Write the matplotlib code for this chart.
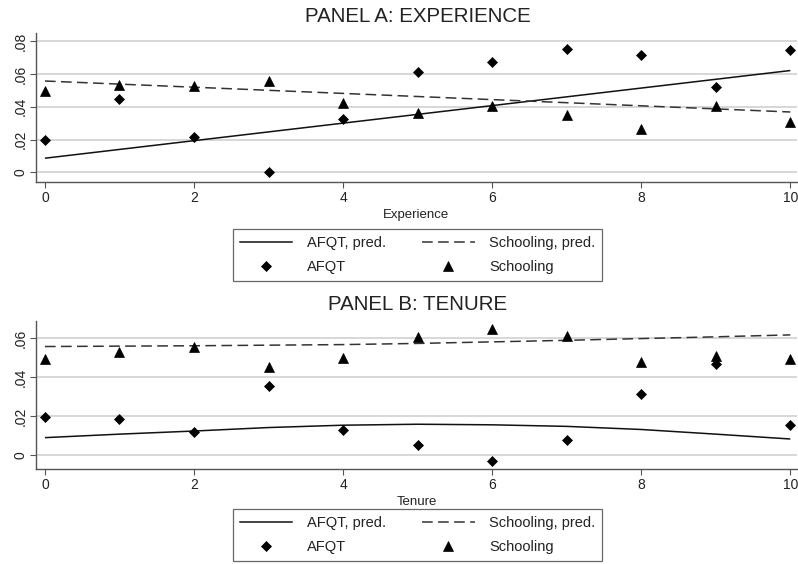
import matplotlib
matplotlib.use("Agg")
import matplotlib.pyplot as plt
from matplotlib.lines import Line2D

plt.rcParams['font.family'] = ['Liberation Sans', 'DejaVu Sans']

# ---- data ----
x_vals = [0, 1, 2, 3, 4, 5, 6, 7, 8, 9, 10]
xticks = [0, 2, 4, 6, 8, 10]

# Panel A: Experience
a_afqt = [0.0200, 0.0447, 0.0216, 0.0004, 0.0325, 0.0610, 0.0674, 0.0755, 0.0714, 0.0523, 0.0749]
a_school = [0.0494, 0.0535, 0.0529, 0.0555, 0.0425, 0.0361, 0.0402, 0.0351, 0.0265, 0.0406, 0.0304]
a_pred_x = [0, 10]
a_afqt_pred = [0.0086, 0.0621]
a_school_pred = [0.0557, 0.0368]
a_yticks = [0, 0.02, 0.04, 0.06, 0.08]
a_yticklabels = ['0', '.02', '.04', '.06', '.08']

# Panel B: Tenure
b_afqt = [0.0196, 0.0182, 0.0119, 0.0353, 0.0126, 0.0048, -0.0031, 0.0076, 0.0311, 0.0468, 0.0153]
b_school = [0.0493, 0.0528, 0.0554, 0.0454, 0.0497, 0.0608, 0.0648, 0.0613, 0.0479, 0.0509, 0.0492]
b_afqt_pred = [0.0088, 0.0106, 0.0122, 0.0140, 0.0152, 0.0157, 0.0154, 0.0146, 0.0130, 0.0106, 0.0081]
b_school_pred = [0.0557, 0.0559, 0.0561, 0.0564, 0.0567, 0.0573, 0.0581, 0.0589, 0.0598, 0.0607, 0.0617]
b_yticks = [0, 0.02, 0.04, 0.06]
b_yticklabels = ['0', '.02', '.04', '.06']

W, H = 798, 564
fig = plt.figure(figsize=(W / 100, H / 100), dpi=100)

D_MS, T_MS = 5.2, 6.6


def px_axes(left, top, right, bottom):
    return fig.add_axes([left / W, 1 - bottom / H, (right - left) / W, (bottom - top) / H])


def style(ax, yticks, yticklabels, ylim, xlabel):
    ax.set_xlim(-0.12, 10.09)
    ax.set_ylim(*ylim)
    ax.set_xticks(xticks)
    ax.set_xticklabels([str(t) for t in xticks], fontsize=10, color='#222222')
    ax.set_yticks(yticks)
    ax.set_yticklabels(yticklabels, fontsize=10, rotation=90, va='center', color='#222222')
    for s in ['top', 'right']:
        ax.spines[s].set_visible(False)
    for s in ['left', 'bottom']:
        ax.spines[s].set_color('#555555')
        ax.spines[s].set_linewidth(1.0)
    ax.tick_params(axis='both', direction='out', length=4, width=0.8, color='#555555', pad=2)
    ax.grid(axis='y', color='#d4d4d4', linewidth=1.3)
    ax.set_axisbelow(True)
    ax.set_xlabel(xlabel, fontsize=9.5, labelpad=3, color='#222222')


def draw(ax, afqt, school, px, ap, sp):
    ax.plot(px, ap, color='#111111', lw=1.1, solid_capstyle='butt')
    l, = ax.plot(px, sp, color='#333333', lw=1.1)
    l.set_dashes([7, 3.5])
    ax.plot(x_vals, afqt, linestyle='none', marker='D', ms=D_MS, mew=0.5, color='black')
    ax.plot(x_vals, school, linestyle='none', marker='^', ms=T_MS, mew=0.5, color='black')


axA = px_axes(36, 33, 797, 182.3)
draw(axA, a_afqt, a_school, a_pred_x, a_afqt_pred, a_school_pred)
style(axA, a_yticks, a_yticklabels, (-0.0061, 0.085), 'Experience')

axB = px_axes(36, 320.7, 797, 469.3)
draw(axB, b_afqt, b_school, x_vals, b_afqt_pred, b_school_pred)
style(axB, b_yticks, b_yticklabels, (-0.0075, 0.069), 'Tenure')

fig.text(417.5 / W, 1 - 17 / H, 'PANEL A: EXPERIENCE', ha='center', va='center', fontsize=14.8, color='#222222')
fig.text(417.5 / W, 1 - 304 / H, 'PANEL B: TENURE', ha='center', va='center', fontsize=14.8, color='#222222')


def handles():
    h1 = Line2D([], [], color='#111111', lw=1.1)
    h2 = Line2D([], [], linestyle='none', marker='D', ms=D_MS, mew=0.5, color='black')
    h3 = Line2D([], [], color='#333333', lw=1.1, dashes=[7, 3.5])
    h4 = Line2D([], [], linestyle='none', marker='^', ms=T_MS, mew=0.5, color='black')
    return [h1, h2, h3, h4], ['AFQT, pred.', 'AFQT', 'Schooling, pred.', 'Schooling']


for top in (229.3, 509.3):
    hs, ls = handles()
    leg = fig.legend(hs, ls, loc='upper left', ncol=2,
                     bbox_to_anchor=(233 / W, 1 - top / H),
                     fontsize=10.5, frameon=True, fancybox=False, handlelength=3.6,
                     handletextpad=1.0, borderpad=0.45, labelspacing=0.7,
                     columnspacing=2.5, borderaxespad=0)
    leg.get_frame().set_edgecolor('#444444')
    leg.get_frame().set_linewidth(0.9)
    for t in leg.get_texts():
        t.set_color('#222222')

fig.savefig('out.png', dpi=100)
